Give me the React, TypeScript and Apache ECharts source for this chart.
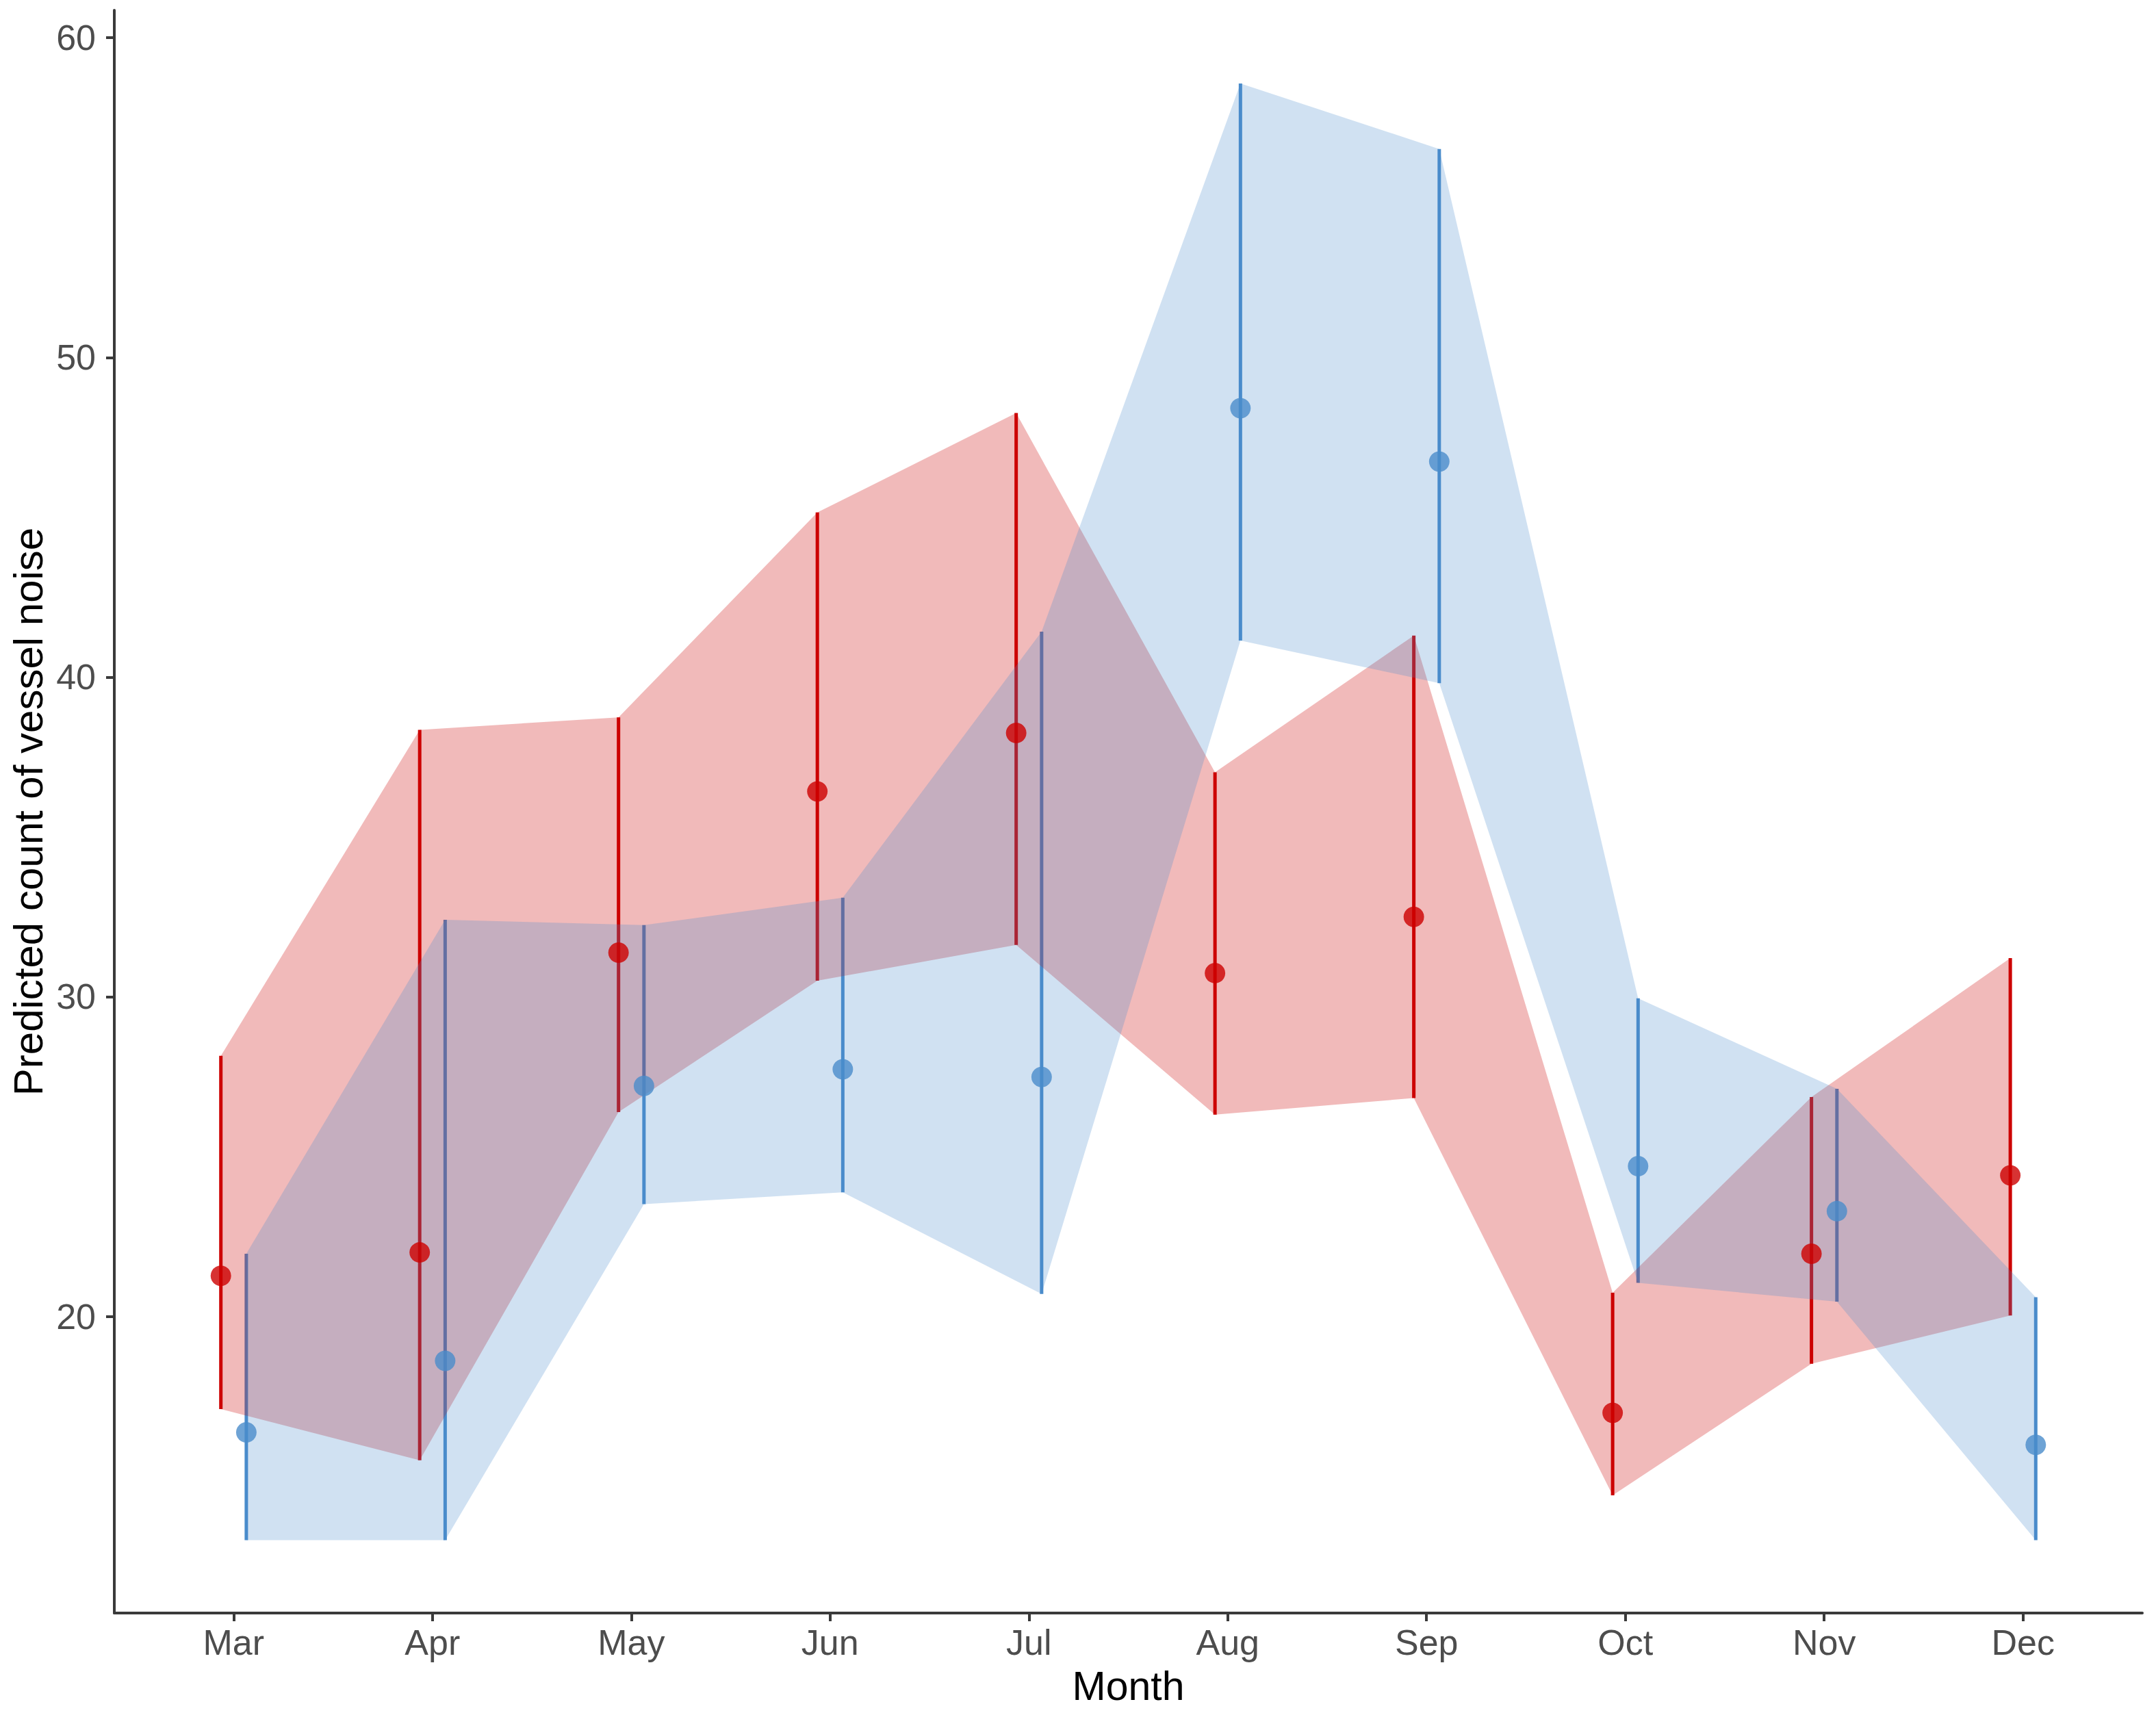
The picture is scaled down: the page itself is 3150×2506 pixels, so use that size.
import React, { useEffect, useRef } from "react";
import * as echarts from "echarts";

const months = ["Mar", "Apr", "May", "Jun", "Jul", "Aug", "Sep", "Oct", "Nov", "Dec"];
const monthPos = [1, 2, 3, 4, 5, 6, 7, 8, 9, 10];
const yTicks = [20, 30, 40, 50, 60];
const dodge = 0.064;

const redFit = [21.27, 22.0, 31.38, 36.42, 38.25, 30.74, 32.5, 16.98, 21.96, 24.41];
const redLower = [17.1, 15.5, 26.39, 30.5, 31.62, 26.31, 26.83, 14.4, 18.52, 20.03];
const redUpper = [28.15, 38.35, 38.74, 45.15, 48.26, 37.02, 41.3, 20.74, 26.86, 31.21];

const blueFit = [16.37, 18.61, 27.21, 27.73, 27.49, 48.41, 46.74, 24.7, 23.29, 15.98];
const blueLower = [13.0, 13.0, 23.51, 23.88, 20.7, 41.14, 39.81, 21.05, 20.46, 13.0];
const blueUpper = [21.96, 32.41, 32.24, 33.1, 41.42, 58.57, 56.52, 29.95, 27.12, 20.6];

const RED = "#CD0000";
const BLUE = "#4A8CCB";
const RED_FILL = "rgba(205,0,0,0.27)";
const BLUE_FILL = "rgba(74,140,203,0.26)";
const FONT = "'Liberation Sans', Arial, sans-serif";

function rows(offset: number, fit: number[], lo: number[], hi: number[]) {
  return monthPos.map((m, i) => [m + offset, fit[i], lo[i], hi[i]]);
}

function barSeries(name: string, data: number[][], color: string) {
  return {
    name,
    type: "custom",
    data,
    encode: { x: 0, y: [2, 3] },
    z: 2,
    renderItem: (params: any, api: any) => {
      const x = api.value(0);
      const p1 = api.coord([x, api.value(2)]);
      const p2 = api.coord([x, api.value(3)]);
      return {
        type: "line",
        shape: { x1: p1[0], y1: p1[1], x2: p2[0], y2: p2[1] },
        style: { stroke: color, lineWidth: 5 },
      };
    },
  };
}

function ribbonSeries(name: string, data: number[][], fill: string) {
  return {
    name,
    type: "custom",
    data,
    encode: { x: 0, y: [2, 3] },
    z: 2,
    renderItem: (params: any, api: any) => {
      if (params.dataIndex !== 0) return null;
      const pts: number[][] = [];
      for (let i = 0; i < data.length; i++) pts.push(api.coord([data[i][0], data[i][3]]));
      for (let i = data.length - 1; i >= 0; i--) pts.push(api.coord([data[i][0], data[i][2]]));
      return {
        type: "polygon",
        shape: { points: pts },
        style: { fill, stroke: "none" },
      };
    },
  };
}

export default function App() {
  const ref = useRef<HTMLDivElement>(null);
  useEffect(() => {
    if (!ref.current) return;
    const chart = echarts.init(ref.current, undefined, { renderer: "svg" });
    const redData = rows(-dodge, redFit, redLower, redUpper);
    const blueData = rows(dodge, blueFit, blueLower, blueUpper);
    const axisColor = "#3a3a3a";
    chart.setOption({
      animation: false,
      backgroundColor: "#ffffff",
      grid: { left: 167, right: 20, top: 15, bottom: 149, containLabel: false },
      xAxis: {
        type: "value",
        min: 0.4,
        max: 10.6,
        splitLine: { show: false },
        axisLine: { show: true, lineStyle: { color: axisColor, width: 4 } },
        axisTick: { show: true, length: 12, customValues: monthPos, lineStyle: { color: axisColor, width: 4 } },
        axisLabel: {
          customValues: monthPos,
          formatter: (v: number) => months[Math.round(v) - 1] ?? "",
          fontSize: 52,
          color: "#4D4D4D",
          margin: 17,
          fontFamily: FONT,
        },
        name: "Month",
        nameLocation: "middle",
        nameGap: 77,
        nameTextStyle: { fontSize: 59, color: "#000000", fontFamily: FONT },
      },
      yAxis: {
        type: "value",
        min: 10.72,
        max: 60.86,
        splitLine: { show: false },
        axisLine: { show: true, lineStyle: { color: axisColor, width: 4 } },
        axisTick: { show: true, length: 12, customValues: yTicks, lineStyle: { color: axisColor, width: 4 } },
        axisLabel: {
          customValues: yTicks,
          fontSize: 52,
          color: "#4D4D4D",
          margin: 27,
          fontFamily: FONT,
        },
        name: "Predicted count of vessel noise",
        nameLocation: "middle",
        nameGap: 95,
        nameRotate: 90,
        nameTextStyle: { fontSize: 60, color: "#000000", fontFamily: FONT },
      },
      series: [
        barSeries("red range", redData, RED),
        barSeries("blue range", blueData, BLUE),
        ribbonSeries("red ribbon", redData, RED_FILL),
        ribbonSeries("blue ribbon", blueData, BLUE_FILL),
        {
          name: "red fit",
          type: "scatter",
          data: redData.map((r) => [r[0], r[1]]),
          symbol: "circle",
          symbolSize: 30,
          itemStyle: { color: RED },
          z: 3,
        },
        {
          name: "blue fit",
          type: "scatter",
          data: blueData.map((r) => [r[0], r[1]]),
          symbol: "circle",
          symbolSize: 30,
          itemStyle: { color: BLUE },
          z: 3,
        },
      ],
    });
    return () => chart.dispose();
  }, []);
  return (
    <div
      ref={ref}
      style={{ position: "absolute", left: 0, top: 0, width: 3150, height: 2506, background: "#fff" }}
    />
  );
}
